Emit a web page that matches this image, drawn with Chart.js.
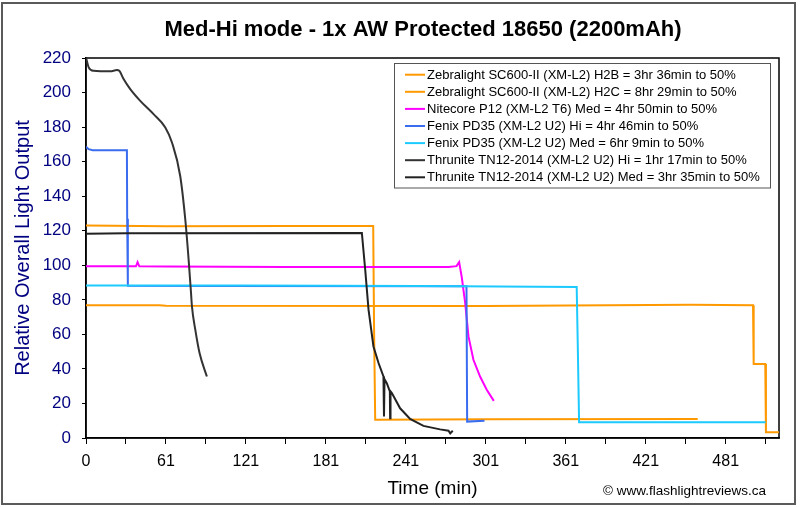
<!DOCTYPE html>
<html>
<head>
<meta charset="utf-8">
<script src="https://cdn.jsdelivr.net/npm/chart.js@4"></script>
<style>
  html, body { margin: 0; padding: 0; background: #fff; }
  #wrap { width: 800px; height: 507px; }
</style>
</head>
<body>
<div id="wrap"><canvas id="myChart" width="800" height="507"></canvas></div>
<script>
const ctx = document.getElementById("myChart").getContext("2d");

// series labels (legend order)
const seriesNames = [
  "Zebralight SC600-II (XM-L2) H2B = 3hr 36min to 50%",
  "Zebralight SC600-II (XM-L2) H2C = 8hr 29min to 50%",
  "Nitecore P12 (XM-L2 T6) Med = 4hr 50min to 50%",
  "Fenix PD35 (XM-L2 U2) Hi = 4hr 46min to 50%",
  "Fenix PD35 (XM-L2 U2) Med = 6hr 9min to 50%",
  "Thrunite TN12-2014 (XM-L2 U2) Hi = 1hr 17min to 50%",
  "Thrunite TN12-2014 (XM-L2 U2) Med = 3hr 35min to 50%",
];
const seriesColors = ["#ff9900", "#ff9900", "#ff00ff", "#3a6cf0", "#1ccaff", "#333333", "#222222"];

// time (min) / relative output
const h2bTime = [0, 60, 150, 215.5, 216.2, 217, 300, 459];
const h2bOut  = [123, 122.6, 122.8, 122.8, 60, 10.5, 10.8, 11];

const h2cTime = [0, 55, 60, 300, 454, 500.5, 501, 509.7, 510.2, 520];
const h2cOut  = [76.8, 76.8, 76.5, 76.4, 77.2, 76.8, 42.8, 42.8, 3.3, 3.3];

const p12Time = [0, 37.5, 38.7, 40, 60, 150, 272, 278, 280, 282, 284.5, 287, 290.7, 295.7, 300.7, 306];
const p12Out  = [99.4, 99.4, 101.8, 99.4, 99.3, 99, 99, 99.5, 101.8, 92.9, 78.4, 58.8, 45.3, 35.6, 27.9, 21.5];

const pd35HiTime = [0, 2, 5, 30.7, 30.9, 31.3, 31.5, 100, 285.5, 286, 299];
const pd35HiOut  = [168.6, 167.2, 166.6, 166.6, 127, 126.5, 88.2, 88, 87.8, 9.5, 10];

const pd35MedTime = [0, 120, 250, 368.2, 369, 370, 510];
const pd35MedOut  = [88.3, 88.3, 88, 87.4, 54, 9.1, 9.1];

const tn12HiTime = [0, 2, 5.7, 18.2, 23.2, 25, 28.2, 33.2, 40.7, 50.7, 59.5, 64.5, 70.7, 74.5, 77, 78.8, 79.5, 82, 85.2, 90.7];
const tn12HiOut  = [220.4, 214.6, 212.6, 212.3, 213, 212.6, 207.8, 202, 195.2, 187.5, 179.8, 171.1, 151.7, 126.5, 103.3, 84, 76.2, 62.7, 49.2, 35.6];

const tn12MedTime = [0, 30, 207, 209.5, 212, 215.7, 219.5, 223.2, 223.6, 224, 225.7, 228, 228.2, 228.5, 229.5, 235.7, 243.2, 253.2, 265.7, 272, 273.3, 275.2];
const tn12MedOut  = [118.2, 118.5, 118.7, 97.5, 74.3, 53, 43.4, 35.6, 12.4, 34, 31.7, 27, 11.5, 27, 26, 17.2, 11, 7, 5, 4.2, 2.7, 4.2];

const seriesTimes = [h2bTime, h2cTime, p12Time, pd35HiTime, pd35MedTime, tn12HiTime, tn12MedTime];
const seriesOuts  = [h2bOut, h2cOut, p12Out, pd35HiOut, pd35MedOut, tn12HiOut, tn12MedOut];

const xTicks = [0, 60, 120, 180, 240, 300, 360, 420, 480];

const NAVY = "#000080";
const FONT = "'Liberation Sans', Arial, sans-serif";

// Title, plot frame, legend box, copyright, outer border
const decorations = {
  id: "decorations",
  beforeDatasetsDraw(chart) {
    const a = chart.chartArea;
    const c = chart.ctx;
    c.save();
    c.strokeStyle = "#000";
    c.lineWidth = 1.5;
    c.strokeRect(a.left, a.top, a.right - a.left, a.bottom - a.top);
    c.restore();
  },
  afterDraw(chart) {
    const c = chart.ctx;
    c.save();
    // outer frame
    c.strokeStyle = "#5a5a5a";
    c.lineWidth = 2;
    c.strokeRect(2, 3, 793, 501);

    // title
    c.fillStyle = "#000";
    c.font = "bold 22px " + FONT;
    c.textAlign = "center";
    c.textBaseline = "alphabetic";
    c.fillText("Med-Hi mode - 1x AW Protected 18650 (2200mAh)", 423, 36);

    // legend
    const bx = 394, by = 63.5, bw = 376, bh = 124.5;
    c.fillStyle = "#fff";
    c.fillRect(bx, by, bw, bh);
    c.strokeStyle = "#555";
    c.lineWidth = 1;
    c.strokeRect(bx + 0.5, by, bw, bh);
    c.font = "13px " + FONT;
    c.textAlign = "left";
    c.textBaseline = "middle";
    seriesNames.forEach((name, i) => {
      const y = 74.7 + i * 17.1;
      c.strokeStyle = seriesColors[i];
      c.lineWidth = 2;
      c.beginPath();
      c.moveTo(405, y);
      c.lineTo(425, y);
      c.stroke();
      c.fillStyle = "#000";
      c.fillText(name, 427, y + 0.5);
    });

    // copyright
    c.font = "13.5px " + FONT;
    c.fillStyle = "#000";
    c.textAlign = "left";
    c.fillText("\u00a9 www.flashlightreviews.ca", 603, 491);
    c.restore();
  },
};

const bgPlugin = {
  id: "bg",
  beforeDraw(chart) {
    const c = chart.ctx;
    c.save();
    c.fillStyle = "#fff";
    c.fillRect(0, 0, chart.width, chart.height);
    c.restore();
  },
};

function buildChart() {
  const datasets = seriesNames.map((name, i) => ({
    label: name,
    data: seriesTimes[i].map((t, k) => ({ x: t, y: seriesOuts[i][k] })),
    borderColor: seriesColors[i],
    borderWidth: 2,
    pointRadius: 0,
    fill: false,
    tension: 0,
    // the Thrunite Hi run is a smooth discharge curve
    cubicInterpolationMode: i === 5 ? "monotone" : "default",
    order: seriesNames.length - i,
  }));

  new Chart(ctx, {
    type: "line",
    data: { datasets },
    plugins: [bgPlugin, decorations],
    options: {
      responsive: false,
      animation: false,
      layout: { padding: { top: 58, right: 21, left: 0, bottom: 0 } },
      plugins: {
        legend: { display: false },
        title: { display: false },
        tooltip: { enabled: false },
      },
      scales: {
        x: {
          type: "linear",
          min: 0,
          max: 520,
          afterFit: (s) => { s.height = 69; },
          afterBuildTicks: (s) => {
            s.ticks = [];
            for (let v = 0; v <= 510; v += 30) s.ticks.push({ value: v });
          },
          ticks: {
            autoSkip: false,
            maxRotation: 0,
            color: "#000",
            padding: 8,
            font: { family: FONT, size: 16 },
            callback: (v) => (xTicks.includes(v) ? (v === 0 ? "0" : String(v + 1)) : ""),
          },
          grid: { drawOnChartArea: false, color: "#000", tickLength: 6, tickWidth: 1 },
          border: { color: "#000", width: 1.5 },
          title: {
            display: true,
            text: "Time (min)",
            color: "#000",
            font: { family: FONT, size: 19 },
            padding: { top: 0, bottom: 6.6 },
          },
        },
        y: {
          min: 0,
          max: 220,
          afterFit: (s) => { s.width = 86; },
          ticks: {
            stepSize: 20,
            color: NAVY,
            padding: 11,
            font: { family: FONT, size: 17 },
          },
          grid: { drawOnChartArea: false, color: "#000", tickLength: 4, tickWidth: 1 },
          border: { color: "#000", width: 1.5 },
          title: {
            display: true,
            text: "Relative Overall Light Output",
            color: NAVY,
            font: { family: FONT, size: 20 },
            padding: { top: 11, bottom: 0 },
          },
        },
      },
    },
  });
}

buildChart();
</script>
</body>
</html>
